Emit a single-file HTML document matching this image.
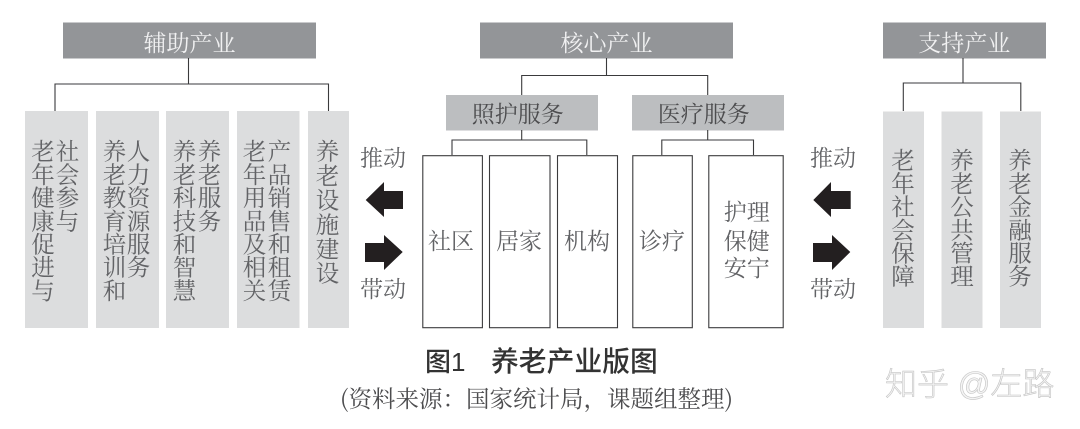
<!DOCTYPE html>
<html lang="zh">
<head>
<meta charset="utf-8">
<style>
html,body{margin:0;padding:0;background:#fff}
#p{position:relative;width:1080px;height:429px;overflow:hidden;background:#fff;font-family:"Noto Serif CJK SC",serif;color:#626366}
#p svg{position:absolute;left:0;top:0}
.v{position:absolute;top:138.5px;width:24px;writing-mode:vertical-rl;text-orientation:upright;font-size:23.5px;line-height:24px;letter-spacing:-.3px;white-space:nowrap}
.h{position:absolute;transform:translateX(-50%);font-size:23px;line-height:23px;white-space:nowrap;margin-top:-1px}
.w{color:#f1f1f2}
.b{color:#4d4d4f}
</style>
</head>
<body>
<div id="p">
<svg width="1080" height="429" viewBox="0 0 1080 429">
<g fill="#939598">
<rect x="63" y="22.5" width="253" height="36"/>
<rect x="480" y="22.5" width="253" height="36"/>
<rect x="883" y="22.5" width="163" height="36"/>
</g>
<g fill="#bcbec0">
<rect x="446" y="95" width="152" height="35.5"/>
<rect x="632" y="95" width="152" height="35.5"/>
</g>
<g fill="#dcddde">
<rect x="25" y="111" width="63" height="217"/>
<rect x="96" y="111" width="63" height="217"/>
<rect x="166" y="111" width="63" height="217"/>
<rect x="237" y="111" width="62.5" height="217"/>
<rect x="308" y="111" width="41" height="217"/>
<rect x="883" y="111.5" width="41" height="216.5"/>
<rect x="941.5" y="111.5" width="41" height="216.5"/>
<rect x="1000" y="111.5" width="41" height="216.5"/>
</g>
<g fill="none" stroke="#3a3a3c" stroke-width="1.1">
<path d="M188.5 58V84M55 111V84H328.5V111"/>
<path d="M606.5 58V75.5M521.7 95V75.5H707.7V95"/>
<path d="M521.7 130V140M452 155V140H586.8V155"/>
<path d="M707.7 130V140M661.8 155V140H753.5V155"/>
<path d="M963 58V83M903.3 111V83H1020.8V111"/>
<rect x="422.8" y="155.7" width="59.6" height="172"/>
<rect x="489.5" y="155.7" width="60.5" height="172"/>
<rect x="557.5" y="155.7" width="60" height="172"/>
<rect x="632.8" y="155.7" width="59.5" height="172"/>
<rect x="708.8" y="155.7" width="74.4" height="172"/>
</g>
<g fill="#231f20">
<path d="M365.7 200L384 182V191H403V209H384V217Z"/>
<path d="M402.7 252L384 235V243H365V262H384V270Z"/>
<path d="M813.3 200L831 182V191H850.7V209H831V217Z"/>
<path d="M850.3 252L832 235V243H813V262H832V270Z"/>
</g>
</svg>

<div class="h w" style="left:189.5px;top:30.5px">辅助产业</div>
<div class="h w" style="left:606.5px;top:30.5px">核心产业</div>
<div class="h w" style="left:964.2px;top:30.5px">支持产业</div>
<div class="h b" style="left:517.7px;top:101.5px">照护服务</div>
<div class="h b" style="left:703.8px;top:101.5px">医疗服务</div>

<div class="v" style="left:31px">老年健康促进与</div>
<div class="v" style="left:55.5px">社会参与</div>
<div class="v" style="left:102.5px">养老教育培训和</div>
<div class="v" style="left:126.5px">人力资源服务</div>
<div class="v" style="left:172.5px">养老科技和智慧</div>
<div class="v" style="left:197.5px">养老服务</div>
<div class="v" style="left:242.5px">老年用品及相关</div>
<div class="v" style="left:267.5px">产品销售和租赁</div>
<div class="v" style="left:315.5px;letter-spacing:.9px">养老设施建设</div>

<div class="v" style="left:891px;top:147.5px">老年社会保障</div>
<div class="v" style="left:950px;top:147.5px">养老公共管理</div>
<div class="v" style="left:1008px;top:147.5px">养老金融服务</div>

<div class="h" style="left:451px;top:228.5px">社区</div>
<div class="h" style="left:519px;top:228.5px">居家</div>
<div class="h" style="left:587px;top:228.5px">机构</div>
<div class="h" style="left:662px;top:228.5px">诊疗</div>
<div class="h" style="left:746.7px;top:199.5px">护理</div>
<div class="h" style="left:746.7px;top:228.5px">保健</div>
<div class="h" style="left:746.7px;top:255.5px">安宁</div>

<div class="h" style="left:383px;top:145.5px">推动</div>
<div class="h" style="left:383px;top:276.5px">带动</div>
<div class="h" style="left:833px;top:145.5px">推动</div>
<div class="h" style="left:833px;top:276.5px">带动</div>

<div class="h" style="left:425px;top:348.5px;transform:none;font-family:'Liberation Sans','Noto Sans CJK SC',sans-serif;font-size:26px;line-height:28px;font-weight:500;color:#333">图1</div>
<div class="h" style="left:491px;top:348.5px;transform:none;font-family:'Liberation Sans','Noto Sans CJK SC',sans-serif;font-size:27.8px;line-height:28px;font-weight:500;color:#333">养老产业版图</div>
<div class="h" style="left:536.5px;top:386.5px;color:#4d4d4f;font-size:23.5px;font-family:'Noto Serif CJK SC',serif">(资料来源&#xFF1A;国家统计局&#xFF0C;课题组整理)</div>

<div class="h" style="left:885px;top:368px;transform:none;font-family:'Liberation Sans','Noto Sans CJK SC',sans-serif;font-size:32px;line-height:34px;font-weight:300;color:#f4f4f4;-webkit-text-stroke:.6px #c4c4c4">知乎 @左路</div>
</div>
</body>
</html>
